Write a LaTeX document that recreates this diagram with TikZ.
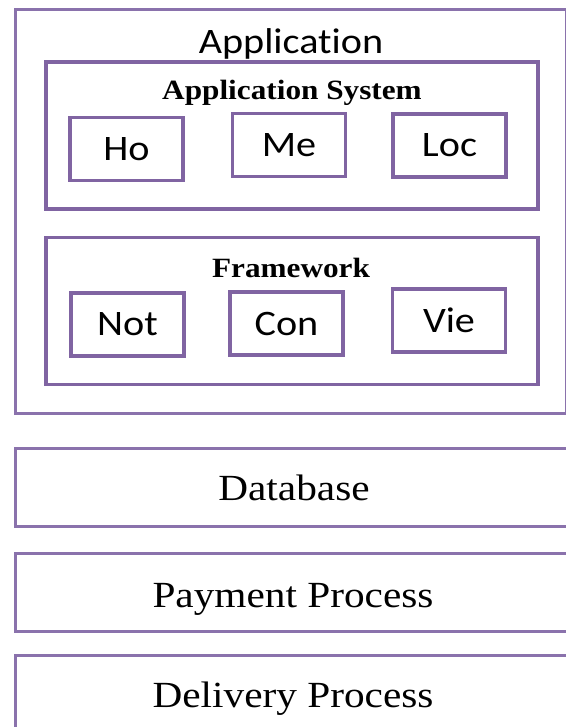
\documentclass[tikz,border=0pt]{standalone}
\usepackage{fontspec}
\setmainfont{Liberation Serif}[FakeStretch=1.12]
\newfontfamily\calfont{Carlito}[FakeStretch=1.12, Ligatures=NoCommon]
\definecolor{boxpurple}{HTML}{8064A2}
\definecolor{outerpurple}{HTML}{8A72AC}
\tikzset{
  innerbox/.style={draw=boxpurple, line width=3.2bp, minimum width=113bp, minimum height=63bp, inner sep=0pt, font=\calfont\fontsize{36}{40}\selectfont},
  groupbox/.style={draw=boxpurple, line width=3.2bp, minimum width=492bp, minimum height=147bp, inner sep=0pt},
  layerbox/.style={draw=outerpurple, line width=3bp, inner sep=0pt},
  grouptitle/.style={font=\bfseries\fontsize{28}{32}\selectfont, inner sep=0pt, anchor=base},
  layertext/.style={font=\fontsize{37}{40}\selectfont, inner sep=0pt, anchor=base}
}
\begin{document}
\begin{tikzpicture}[x=1bp,y=-1bp]
\useasboundingbox (0,0) rectangle (566,727);
\clip (0,0) rectangle (566,727);
% outer application box
\node[layerbox, minimum width=550bp, minimum height=403bp] (app) at (291,211.5) {};
\node[font=\calfont\fontsize{36}{40}\selectfont, inner sep=0pt, anchor=base] (apptitle) at (291,54) {Application};
% application system
\node[groupbox] (appsys) at (292,135.5) {};
\node[grouptitle] (appsystitle) at (292,100) {Application System};
\node[innerbox] (ho) at (126.5,149) {Ho};
\node[innerbox] (me) at (289,145) {Me};
\node[innerbox] (loc) at (449.5,145.5) {Loc};
% framework
\node[groupbox] (fw) at (292,311) {};
\node[grouptitle] (fwtitle) at (291,277) {Framework};
\node[innerbox] (not) at (127.5,324.5) {Not};
\node[innerbox] (con) at (286.5,323.5) {Con};
\node[innerbox] (vie) at (449,320.5) {Vie};
% lower layers (cut off at the right edge)
\node[layerbox, minimum width=570bp, minimum height=78bp] (db) at (301,487) {};
\node[layertext] (dbtext) at (294,500) {Database};
\node[layerbox, minimum width=570bp, minimum height=78bp] (pay) at (301,592) {};
\node[layertext] (paytext) at (293,607) {Payment Process};
\node[layerbox, minimum width=570bp, minimum height=100bp] (del) at (301,705) {};
\node[layertext] (deltext) at (293,707) {Delivery Process};
\end{tikzpicture}
\end{document}
